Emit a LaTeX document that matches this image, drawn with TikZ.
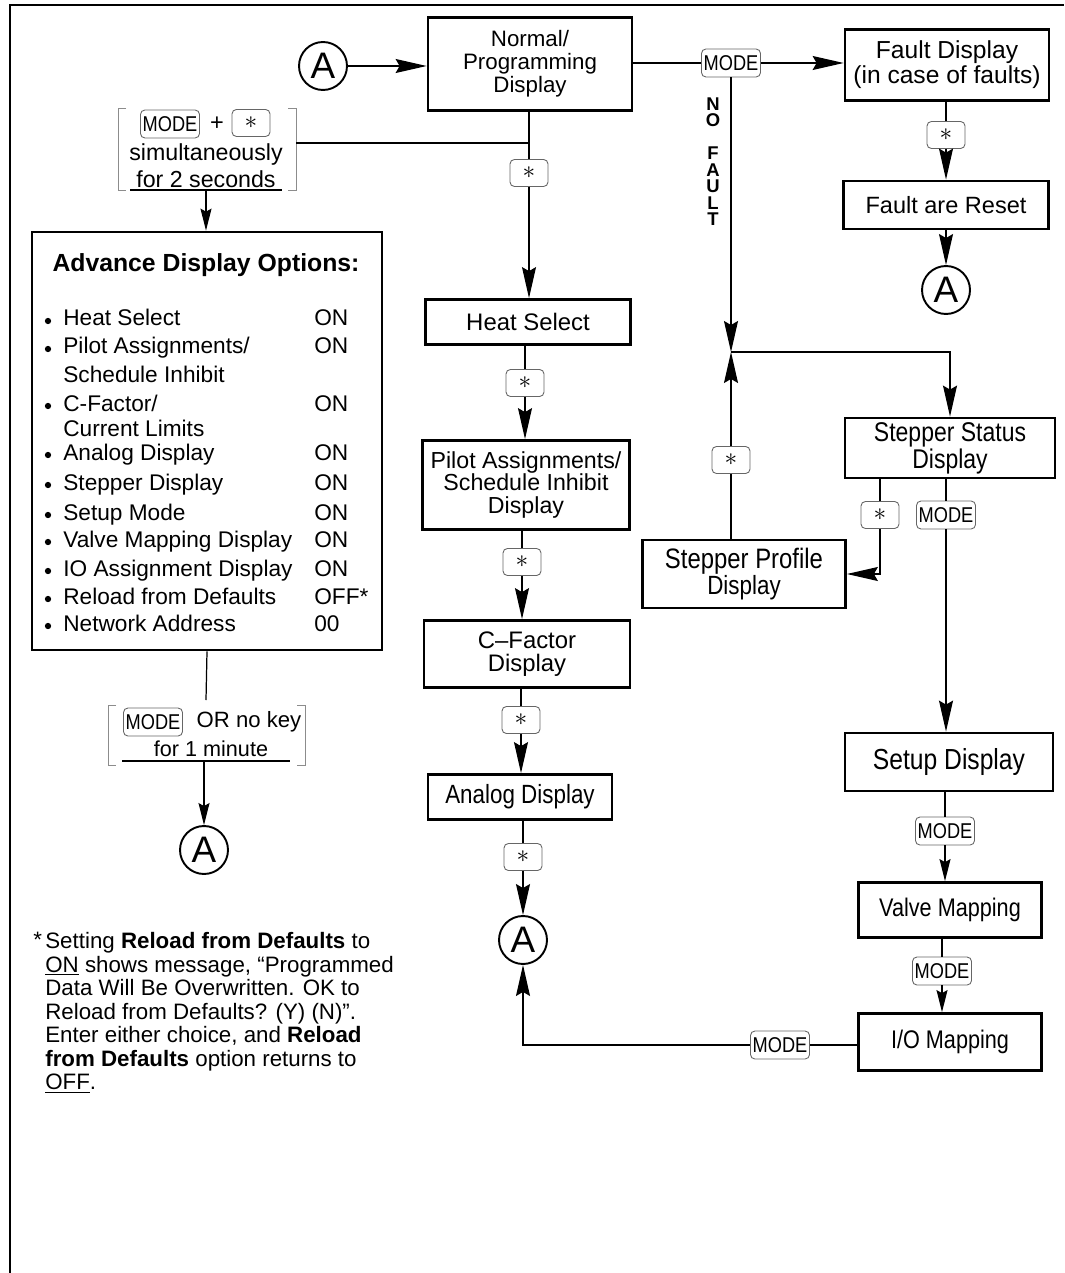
\documentclass[tikz,border=0pt]{standalone}
\usepackage{fontspec}
\setmainfont{Liberation Sans}
\newfontfamily\narrowfont[FakeStretch=0.85]{Liberation Sans}
\usetikzlibrary{arrows.meta}

\newcommand{\fsz}[2]{\fontsize{#1}{#2}\selectfont}

\begin{document}
\begin{tikzpicture}[x=0.02cm,y=-0.02cm, every node/.style={font=\fsz{13.4}{13.4}},
  dispbox/.style={draw,line width=1.6pt,align=center,inner sep=0pt},
  keybox/.style={draw=black!60,rounded corners=2.5pt,fill=white,line width=0.5pt,inner sep=0pt,minimum height=0.54cm},
  starkey/.style={keybox,minimum width=0.76cm,font=\fsz{14}{14}},
  modekey/.style={keybox,minimum width=1.18cm,minimum height=0.56cm,font=\narrowfont\fsz{12.2}{12.2}},
  circA/.style={draw,circle,line width=1.1pt,minimum size=0.96cm,inner sep=0pt,font=\fsz{21}{21}},
  conn/.style={line width=0.7pt},
  arr/.style={conn,-{Stealth[length=0.62cm,width=0.28cm,inset=0.08cm]}},
  sarr/.style={conn,-{Stealth[length=0.44cm,width=0.22cm,inset=0.06cm]}},
  brk/.style={draw=black!45,line width=0.5pt},
  optxt/.style={anchor=base west,inner sep=0pt,font=\fsz{12.9}{12.9}}]
\useasboundingbox (0,0) rectangle (1064,1273);
\draw[conn] (10,1273) -- (10,5) -- (1064,5);

% main column
\node[circA] (a1) at (323,66) {A};
\node[dispbox,minimum width=4.08cm,minimum height=1.86cm,font=\fsz{12.7}{13}] (normal) at (530,64) {Normal/\\Programming\\Display};
\draw[arr] (a1) -- (normal.west |- a1);
\node[starkey] (sN) at (529,173) {$\ast$};
\node[dispbox,minimum width=4.1cm,minimum height=0.9cm,font=\fsz{13.6}{13.6}] (heat) at (528,322) {Heat Select};
\draw[conn] (normal.south -| sN) -- (sN);
\draw[arr] (sN) -- (sN |- heat.north);
\node[starkey] (sH) at (525,383) {$\ast$};
\node[dispbox,minimum width=4.14cm,minimum height=1.78cm,font=\fsz{13.2}{12.8}] (pilot) at (526,485) {Pilot Assignments/\\Schedule Inhibit\\Display};
\draw[conn] (heat.south -| sH) -- (sH);
\draw[arr] (sH) -- (sH |- pilot.north);
\node[starkey] (sP) at (522,562) {$\ast$};
\node[dispbox,minimum width=4.12cm,minimum height=1.34cm,font=\fsz{13.6}{13}] (cfac) at (527,654) {C--Factor\\Display};
\draw[conn] (pilot.south -| sP) -- (sP);
\draw[arr] (sP) -- (sP |- cfac.north);
\node[starkey] (sC) at (521,720) {$\ast$};
\node[dispbox,minimum width=3.68cm,minimum height=0.9cm,font=\narrowfont\fsz{15}{15}] (analog) at (520,797) {Analog Display};
\draw[conn] (cfac.south -| sC) -- (sC);
\draw[arr] (sC) -- (sC |- analog.north);
\node[starkey] (sA) at (523,857) {$\ast$};
\node[circA] (a4) at (523,940) {A};
\draw[conn] (analog.south -| sA) -- (sA);
\draw[arr] (sA) -- (a4);

% fault branch
\node[modekey] (mF) at (731,63) {MODE};
\node[dispbox,minimum width=4.08cm,minimum height=1.42cm,font=\fsz{14}{14.2}] (fault) at (947,65) {Fault Display\\(in case of faults)};
\draw[conn] (normal.east |- mF) -- (mF);
\draw[arr] (mF) -- (fault.west |- mF);
\node[starkey] (sF) at (946,135) {$\ast$};
\node[dispbox,minimum width=4.1cm,minimum height=0.96cm,font=\fsz{13.4}{13.4}] (reset) at (946,205) {Fault are Reset};
\draw[conn] (fault.south -| sF) -- (sF);
\draw[arr] (sF) -- (sF |- reset.north);
\node[circA] (a2) at (946,290) {A};
\draw[arr] (reset) -- (a2);

% no fault loop
\node[font=\bfseries\fsz{10.5}{9.4},align=center,anchor=north,inner sep=0pt] (nofault) at (713,97) {N\\O\\[9.4pt]F\\A\\U\\L\\T};
\coordinate (jn) at (731,352);
\draw[arr] (mF) -- (jn);
\node[dispbox,minimum width=4.2cm,minimum height=1.2cm,font=\narrowfont\fsz{15.4}{14.2}] (status) at (950,448) {Stepper Status\\Display};
\draw[arr] (jn) -| (status);
\node[starkey] (sJ) at (731,460) {$\ast$};
\node[dispbox,minimum width=4.06cm,minimum height=1.36cm,font=\narrowfont\fsz{16}{15}] (profile) at (744,574) {Stepper Profile\\{\fsz{15}{15}Display}};
\draw[conn] (sJ |- profile.north) -- (sJ);
\draw[arr] (sJ) -- (jn);
\node[starkey] (sS) at (880,515) {$\ast$};
\node[modekey] (mS) at (946,515) {MODE};
\draw[conn] (status.south -| sS) -- (sS);
\draw[arr] (sS) |- (profile.east);
\draw[conn] (status.south -| mS) -- (mS);
\node[dispbox,minimum width=4.16cm,minimum height=1.16cm,font=\narrowfont\fsz{16.5}{16}] (setup) at (949,762) {Setup Display};
\draw[arr] (mS) -- (mS |- setup.north);
\node[modekey] (mV) at (945,831) {MODE};
\draw[conn] (setup.south -| mV) -- (mV);
\node[dispbox,minimum width=3.66cm,minimum height=1.1cm,font=\narrowfont\fsz{14.5}{14}] (valve) at (950,910) {Valve Mapping};
\draw[sarr] (mV) -- (mV |- valve.north);
\node[modekey] (mI) at (942,971) {MODE};
\draw[conn] (valve.south -| mI) -- (mI);
\node[dispbox,minimum width=3.66cm,minimum height=1.14cm,font=\narrowfont\fsz{14.5}{14}] (iomap) at (950,1042) {I/O Mapping};
\draw[sarr] (mI) -- (mI |- iomap.north);
\node[modekey] (mO) at (780,1045) {MODE};
\draw[conn] (iomap.west |- mO) -- (mO);
\draw[arr] (mO) -| (a4);

% key combination for advance options
\node[modekey] (mK) at (170,124) {MODE};
\node (plus) at (217,124) {+};
\node[starkey] (sK) at (251,123) {$\ast$};
\node[font=\fsz{13.2}{13.2}] (simul) at (206,155) {simultaneously};
\node[font=\fsz{13.2}{13.2}] (secs) at (206,179) {for 2 seconds};
\draw[brk] (126,108) -- (118,108) -- (118,190) -- (126,190);
\draw[brk] (288,108) -- (296,108) -- (296,190) -- (288,190);
\draw[conn] (130,190) -- (282,190);
\coordinate (ul1) at (206,190);
\coordinate (br1) at (296,143);
\draw[conn] (br1) -- (br1 -| sN);

% advance options
\node[dispbox,minimum width=7cm,minimum height=8.36cm] (adv) at (207,441) {};
\draw[sarr] (ul1) -- (ul1 |- adv.north);
\node[font=\bfseries\fsz{14.1}{14.1}] (advtitle) at (206,265) {Advance Display Options:};
\foreach \y/\txt/\val in {319/Heat Select/ON, 347/{Pilot Assignments/}/ON, 404/{C-Factor/}/ON,
    453/Analog Display/ON, 483/Stepper Display/ON, 513/Setup Mode/ON, 540/Valve Mapping Display/ON,
    569/IO Assignment Display/ON, 597/Reload from Defaults/OFF*, 624/Network Address/00}{
  \fill (48,\y+2) circle[radius=1.8pt];
  \node[optxt] (item\y) at (63,\y+7) {\txt};
  \node[optxt] (val\y) at (314,\y+7) {\val};
}
\node[optxt] (item375) at (63,382) {Schedule Inhibit};
\node[optxt] (item429) at (63,436) {Current Limits};

% exit from advance options
\coordinate (br2) at (206,700);
\draw[conn] (adv.south) -- (br2);
\node[modekey] (mL) at (153,722) {MODE};
\node[font=\fsz{12.6}{12.6}] (orkey) at (249,722) {OR no key};
\node[font=\fsz{12.3}{12.3}] (minute) at (211,749) {for 1 minute};
\draw[brk] (116,705) -- (108,705) -- (108,765) -- (116,765);
\draw[brk] (297,705) -- (305,705) -- (305,765) -- (297,765);
\draw[conn] (122,761) -- (290,761);
\coordinate (ul2) at (204,761);
\node[circA] (a3) at (204,850) {A};
\draw[sarr] (ul2) -- (a3);

% footnote
\node[anchor=base west,inner sep=0pt,font=\fsz{12.7}{13.4}] (fnstar) at (33,947) {*};
\node[anchor=north west,inner sep=0pt,align=left,font=\fsz{12.7}{13.4}] (fn) at (45,932) {Setting \textbf{Reload from Defaults} to\\\underline{ON} shows message, “Programmed\\Data Will Be Overwritten. OK to\\Reload from Defaults? (Y) (N)”.\\Enter either choice, and \textbf{Reload}\\\textbf{from Defaults} option returns to\\\underline{OFF}.};
\end{tikzpicture}
\end{document}
